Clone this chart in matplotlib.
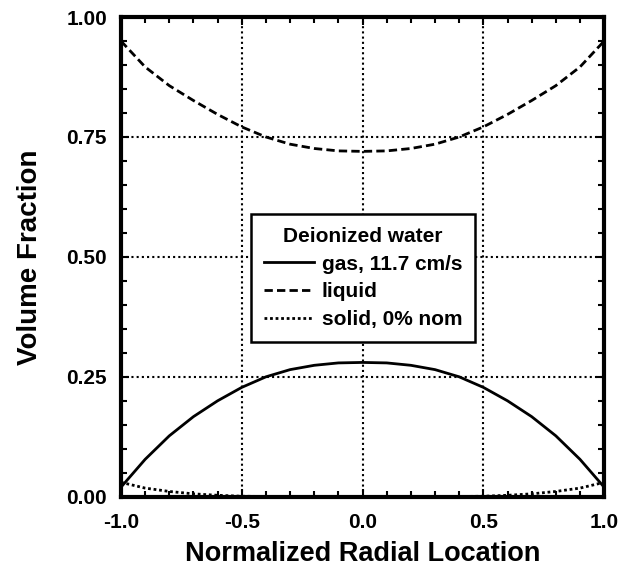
import matplotlib
matplotlib.use("Agg")
import matplotlib.pyplot as plt
from matplotlib.ticker import MultipleLocator, FormatStrFormatter

plt.rcParams['font.family'] = ['Liberation Sans', 'DejaVu Sans']
plt.rcParams['font.weight'] = 'bold'

r = [-1.0, -0.9, -0.8, -0.7, -0.6, -0.5, -0.4, -0.3, -0.2, -0.1, 0.0,
     0.1, 0.2, 0.3, 0.4, 0.5, 0.6, 0.7, 0.8, 0.9, 1.0]
gas = [0.020, 0.078, 0.127, 0.167, 0.200, 0.228, 0.250, 0.265, 0.274, 0.279, 0.280,
       0.279, 0.274, 0.265, 0.250, 0.228, 0.200, 0.167, 0.127, 0.078, 0.020]
liquid = [0.950, 0.896, 0.857, 0.826, 0.797, 0.771, 0.750, 0.735, 0.726, 0.721, 0.720,
          0.721, 0.726, 0.735, 0.750, 0.771, 0.797, 0.826, 0.857, 0.896, 0.950]
solid = [0.030, 0.018, 0.011, 0.006, 0.003, 0.001, 0.0005, 0.0002, 0.0, 0.0, 0.0,
         0.0, 0.0, 0.0002, 0.0005, 0.001, 0.003, 0.006, 0.011, 0.018, 0.030]

labels = ['gas, 11.7 cm/s', 'liquid', 'solid, 0% nom']
legend_title = 'Deionized water'

fig = plt.figure(figsize=(6.25, 5.69), dpi=100)
ax = fig.add_axes([0.1936, 0.127, 0.773, 0.843])

ax.plot(r, gas, color='black', lw=2.0, ls='-', label=labels[0])
ax.plot(r, liquid, color='black', lw=2.0, ls=(0, (3, 1.5)), label=labels[1])
ax.plot(r, solid, color='black', lw=2.0, ls=(0, (1, 1)), label=labels[2])

ax.set_xlim(-1, 1)
ax.set_ylim(0, 1)
ax.xaxis.set_major_locator(MultipleLocator(0.5))
ax.xaxis.set_minor_locator(MultipleLocator(0.1))
ax.yaxis.set_major_locator(MultipleLocator(0.25))
ax.yaxis.set_minor_locator(MultipleLocator(0.05))
ax.xaxis.set_major_formatter(FormatStrFormatter('%.1f'))
ax.yaxis.set_major_formatter(FormatStrFormatter('%.2f'))
ax.tick_params(which='both', direction='in', top=True, right=True, width=1.5, colors='black')
ax.tick_params(which='major', length=6, labelsize=15)
ax.tick_params(axis='y', which='major', pad=10)
ax.tick_params(axis='x', which='major', pad=12)
ax.tick_params(which='minor', length=4)
for s in ax.spines.values():
    s.set_linewidth(3)
ax.grid(True, which='major', color='black', ls=(0, (1, 1.5)), lw=1.5)

ax.set_xlabel('Normalized Radial Location', fontsize=19.5, fontweight='bold', labelpad=6)
ax.set_ylabel('Volume Fraction', fontsize=20, fontweight='bold', labelpad=17)

leg = ax.legend(title=legend_title, loc='center', bbox_to_anchor=(0.501, 0.456),
                fontsize=15, title_fontproperties={'weight': 'bold', 'size': 15},
                frameon=True, fancybox=False, edgecolor='black', framealpha=1,
                handlelength=2.4, handletextpad=0.4, borderpad=0.6, labelspacing=0.42,
                borderaxespad=0)
leg.get_frame().set_linewidth(1.8)
for t in leg.get_texts():
    t.set_fontweight('bold')

fig.savefig('out.png', dpi=100)
